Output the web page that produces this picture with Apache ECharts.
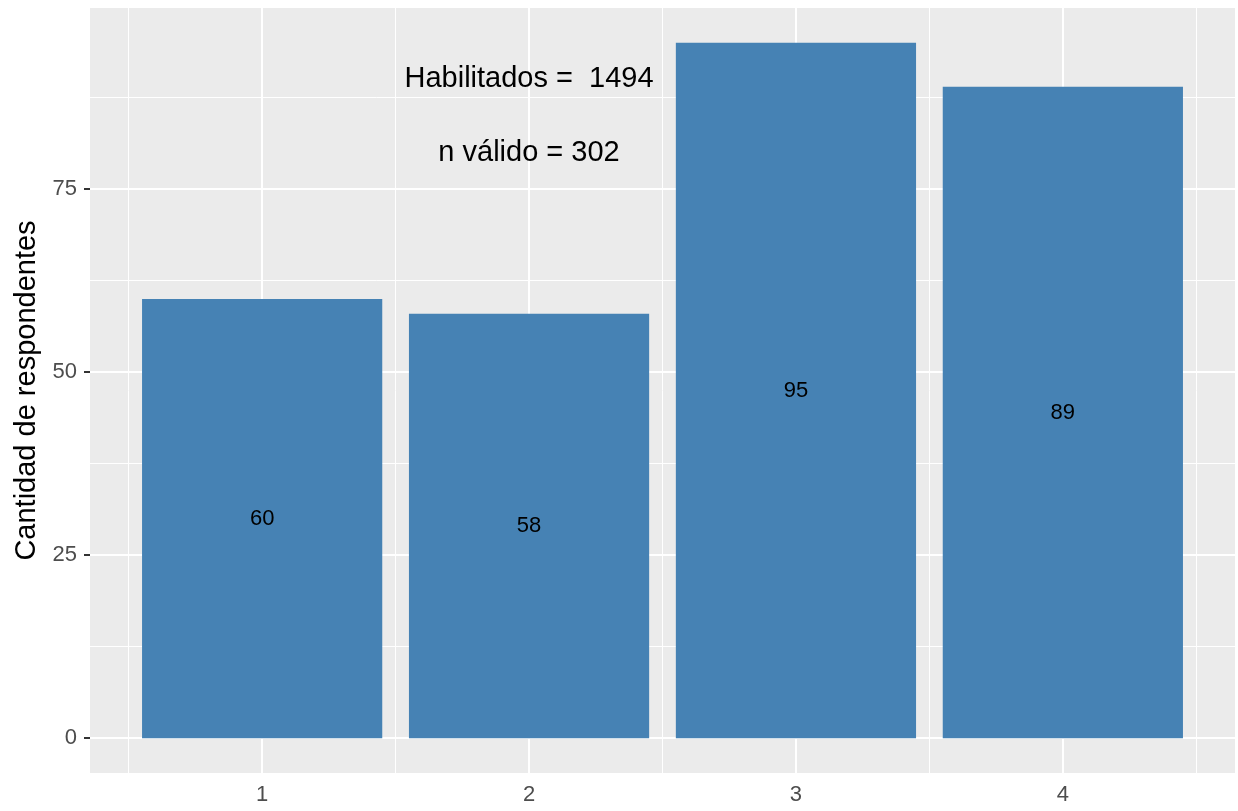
<!DOCTYPE html>
<html>
<head>
<meta charset="utf-8">
<script src="https://cdn.jsdelivr.net/npm/echarts@6/dist/echarts.min.js"></script>
<style>
html,body{margin:0;padding:0;background:#fff;}
#chart{width:1238px;height:811px;}
</style>
</head>
<body>
<div id="chart"></div>
<script>
// Data
const categories = [1, 2, 3, 4];
const counts = [60, 58, 95, 89];
const xTicks = [1, 2, 3, 4];
const xMinor = [0.5, 1.5, 2.5, 3.5, 4.5];
const yTicks = [0, 25, 50, 75];
const yMinor = [12.5, 37.5, 62.5, 87.5];
const annotations = [
  { x: 2, y: 90, text: 'Habilitados =  1494' },
  { x: 2, y: 80, text: 'n válido = 302' }
];
const yTitle = 'Cantidad de respondentes';

const FONT = 'Liberation Sans, Arial, sans-serif';
const chart = echarts.init(document.getElementById('chart'), null, { renderer: 'canvas' });

const gridLines = [];
xMinor.forEach(v => gridLines.push({ xAxis: v, lineStyle: { width: 1 } }));
yMinor.forEach(v => gridLines.push({ yAxis: v, lineStyle: { width: 1 } }));
xTicks.forEach(v => gridLines.push({ xAxis: v, lineStyle: { width: 2 } }));
yTicks.forEach(v => gridLines.push({ yAxis: v, lineStyle: { width: 2 } }));

const option = {
  animation: false,
  textStyle: { fontFamily: FONT },
  grid: {
    left: 90, right: 3, top: 8, bottom: 38,
    containLabel: false, outerBoundsMode: 'none',
    show: true, backgroundColor: '#EBEBEB', borderWidth: 0
  },
  xAxis: {
    type: 'value', min: 0.355, max: 4.645,
    splitLine: { show: false },
    axisLine: { show: false },
    axisTick: { show: true, customValues: xTicks, length: 6, lineStyle: { color: '#333333', width: 2 } },
    axisLabel: { show: true, customValues: xTicks, fontSize: 22, color: '#4D4D4D', margin: 11, fontFamily: FONT }
  },
  yAxis: {
    type: 'value', min: -4.75, max: 99.75,
    name: yTitle, nameLocation: 'middle', nameGap: 46, nameRotate: 90,
    nameTextStyle: { fontSize: 29, color: '#000000', fontFamily: FONT },
    splitLine: { show: false },
    axisLine: { show: false },
    axisTick: { show: true, customValues: yTicks, length: 6, lineStyle: { color: '#333333', width: 2 } },
    axisLabel: { show: true, customValues: yTicks, fontSize: 22, color: '#4D4D4D', margin: 13, fontFamily: FONT }
  },
  series: [
    {
      type: 'line', data: [], z: 1, silent: true,
      markLine: {
        z: 1, silent: true, symbol: 'none', label: { show: false },
        lineStyle: { color: '#FFFFFF', type: 'solid' },
        data: gridLines
      }
    },
    {
      type: 'custom', z: 3,
      data: categories.map((c, i) => [c, counts[i]]),
      renderItem: function (params, api) {
        const x = api.value(0), v = api.value(1);
        const p0 = api.coord([x - 0.45, v]);
        const p1 = api.coord([x + 0.45, 0]);
        return {
          type: 'rect',
          shape: { x: p0[0], y: p0[1], width: p1[0] - p0[0], height: p1[1] - p0[1] },
          style: { fill: '#4682B4' },
          textContent: {
            style: { text: String(v), fontSize: 22, fill: '#000000', fontFamily: FONT }
          },
          textConfig: { position: 'inside' }
        };
      }
    },
    {
      type: 'custom', z: 4,
      data: annotations.map(a => [a.x, a.y, a.text]),
      renderItem: function (params, api) {
        const p = api.coord([api.value(0), api.value(1)]);
        return {
          type: 'text',
          x: p[0], y: p[1],
          style: {
            text: annotations[params.dataIndex].text,
            fontSize: 29, fill: '#000000', fontFamily: FONT,
            align: 'center', verticalAlign: 'middle'
          }
        };
      }
    }
  ]
};
chart.setOption(option);
</script>
</body>
</html>
